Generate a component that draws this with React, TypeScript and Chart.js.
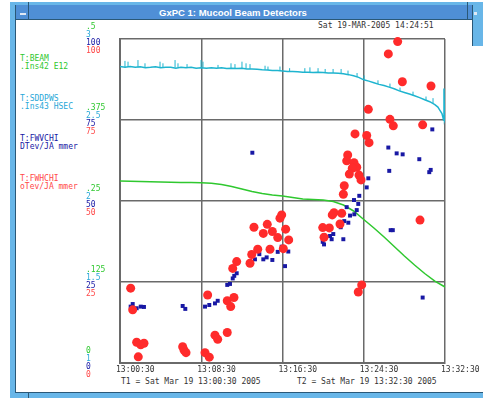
import React, { useEffect, useRef } from "react";
import { Chart, registerables } from "chart.js";
Chart.register(...registerables);

// ---------- data (time in minutes after T1 = 13:00:30) ----------
const xTickLabels = ["13:00:30", "13:08:30", "13:16:30", "13:24:30", "13:32:30"];
const greenTickLabels = ["0", ".125", ".25", ".375", ".5"];
const cyanTickLabels = ["1", "1.5", "2", "2.5", "3"];
const blueTickLabels = ["0", "25", "50", "75", "100"];
const redTickLabels = ["0", "25", "50", "75", "100"];

// T:SDDPWS (cyan, 1..3)
const cyanTime = [0, 0.5, 1, 1.5, 2, 2.5, 3, 3.5, 4, 4.5, 5, 5.5, 6, 6.5, 7, 7.5, 8, 8.5, 9, 9.5, 10, 10.5, 11, 11.5, 12, 12.5, 13, 13.5, 14, 14.5, 15, 15.5, 16, 16.5, 17, 17.5, 18, 18.5, 19, 19.5, 20, 20.5, 21, 21.5, 22, 22.5, 23, 23.5, 24, 24.5, 25, 25.5, 26, 26.5, 27, 27.5, 28, 28.5, 29, 29.5, 30, 30.5, 31, 31.3, 31.5, 31.7, 31.8, 31.85, 31.9, 31.95, 32];
const cyanValue = [2.83, 2.825, 2.83, 2.825, 2.828, 2.823, 2.825, 2.828, 2.823, 2.825, 2.825, 2.82, 2.825, 2.823, 2.825, 2.82, 2.823, 2.82, 2.823, 2.82, 2.823, 2.818, 2.82, 2.818, 2.82, 2.815, 2.815, 2.813, 2.81, 2.808, 2.805, 2.805, 2.803, 2.8, 2.8, 2.798, 2.795, 2.795, 2.793, 2.795, 2.793, 2.79, 2.79, 2.788, 2.785, 2.78, 2.773, 2.763, 2.748, 2.74, 2.73, 2.72, 2.713, 2.703, 2.693, 2.68, 2.67, 2.66, 2.65, 2.638, 2.625, 2.613, 2.595, 2.58, 2.56, 2.54, 2.515, 2.5, 2.695, 2.5, 2.51];
const spikeTime = [0.49, 0.79, 1.77, 2.46, 3.94, 4.23, 5.42, 5.71, 6.6, 7.98, 8.17, 9.65, 10.93, 11.32, 12.01, 12.41, 12.8, 14.28, 14.57, 15.75, 16.7, 18.2, 18.7, 19.5, 20.2, 20.98, 21.77, 22.45, 23.34, 24.03, 25.4, 26.58, 27.57, 28.85, 30.13, 30.82];
const spikeLow = [2.825, 2.828, 2.825, 2.825, 2.823, 2.825, 2.823, 2.825, 2.823, 2.823, 2.823, 2.82, 2.82, 2.82, 2.82, 2.818, 2.815, 2.81, 2.808, 2.805, 2.8, 2.795, 2.795, 2.793, 2.793, 2.79, 2.788, 2.78, 2.765, 2.748, 2.723, 2.7, 2.678, 2.65, 2.623, 2.603];
const spikeHigh = [2.865, 2.86, 2.87, 2.85, 2.86, 2.85, 2.87, 2.85, 2.845, 2.87, 2.86, 2.84, 2.85, 2.845, 2.86, 2.85, 2.845, 2.835, 2.83, 2.83, 2.82, 2.82, 2.825, 2.82, 2.815, 2.815, 2.815, 2.805, 2.79, 2.775, 2.745, 2.725, 2.7, 2.675, 2.645, 2.635];

// T:BEAM (green, 0..0.5)
const greenTime = [0, 1, 2, 3, 4, 5, 6, 7, 8, 9, 10, 11, 12, 13, 14, 15, 16, 17, 18, 19, 20, 21, 22, 23, 24, 25, 26, 27, 28, 29, 30, 31, 32];
const greenValue = [0.281, 0.2805, 0.28, 0.2796, 0.2793, 0.279, 0.2787, 0.2784, 0.2782, 0.2775, 0.2755, 0.2724, 0.2685, 0.2647, 0.2616, 0.2593, 0.2577, 0.2554, 0.2531, 0.2523, 0.2515, 0.2492, 0.2438, 0.2346, 0.2215, 0.2083, 0.1944, 0.1798, 0.1651, 0.1512, 0.1381, 0.1265, 0.1173];

// T:FWVCHI (blue, 0..100)
const blueTime = [1.05, 1.25, 1.64, 2.04, 2.36, 6.17, 6.43, 8.37, 8.79, 9.35, 9.62, 10.56, 10.83, 11.1, 11.25, 11.49, 13.03, 13.29, 13.72, 14.11, 14.44, 15.0, 15.53, 15.92, 16.57, 16.25, 24.45, 24.29, 23.56, 23.04, 23.46, 22.32, 23.31, 22.65, 23.07, 22.08, 22.48, 21.73, 21.0, 20.68, 20.84, 19.96, 20.09, 21.99, 26.65, 26.86, 29.8, 30.75, 26.42, 27.24, 27.83, 29.47, 26.51, 30.59, 30.45];
const blueValue = [17.4, 18.2, 16.9, 17.4, 17.3, 17.6, 16.7, 17.4, 17.9, 18.4, 19.2, 24.1, 24.4, 26.1, 26.9, 27.7, 64.9, 32.0, 33.6, 32.0, 32.6, 31.8, 34.3, 35.9, 34.4, 29.9, 57.0, 54.2, 51.6, 50.3, 49.1, 48.1, 47.2, 45.5, 45.9, 43.8, 43.3, 41.9, 39.8, 39.2, 38.2, 37.4, 36.6, 38.2, 41.0, 41.0, 20.2, 72.1, 66.5, 64.7, 64.4, 62.9, 59.3, 59.6, 58.9];

// T:FWHCHI (red, 0..100)
const redTime = [1.05, 1.25, 1.64, 2.04, 2.36, 1.8, 6.17, 6.3, 6.5, 8.37, 8.79, 8.63, 9.35, 9.62, 10.56, 10.56, 11.22, 10.9, 11.1, 11.49, 12.8, 12.97, 13.56, 13.19, 14.11, 14.5, 15.0, 14.77, 15.53, 15.75, 15.92, 16.31, 16.61, 16.08, 22.42, 22.32, 23.04, 23.31, 22.87, 22.58, 23.53, 23.73, 22.08, 21.99, 21.07, 20.9, 21.83, 21.66, 19.96, 20.61, 20.09, 29.54, 23.8, 23.46, 27.34, 26.42, 27.8, 30.62, 24.45, 26.58, 26.91, 29.8, 23.14, 24.29, 24.52];
const redValue = [23.1, 16.4, 6.4, 5.6, 6.1, 1.9, 5.0, 4.0, 3.2, 3.2, 1.8, 21.0, 8.6, 7.3, 9.4, 19.2, 20.2, 17.4, 29.2, 31.3, 30.8, 33.5, 35.1, 41.9, 40.0, 42.8, 40.6, 35.1, 38.7, 44.7, 45.7, 41.3, 38.0, 35.3, 64.2, 62.4, 61.8, 60.4, 60.1, 58.3, 58.0, 56.5, 54.7, 52.1, 46.4, 45.7, 46.2, 42.9, 41.8, 41.7, 38.8, 44.1, 24.1, 21.9, 99.2, 95.4, 86.8, 85.5, 78.3, 75.2, 73.2, 73.5, 70.7, 70.2, 68.0];

// ---------- styles ----------
const GREEN = "#2fc82f";
const CYAN = "#1eb4cf";
const CYAN_TXT = "#2aa8d8";
const BLUE = "#1818a4";
const RED = "#ff2b2b";
const RED_TXT = "#ff4848";
const GRID = "#6a6a6a";
const MONO = "'DejaVu Sans Mono', monospace";
const FRAME = "#68b6e8";
const TITLE = "#4f8fd6";
const DARK = "#2a5878";

const zip = (xs: number[], ys: number[]) => xs.map((x, i) => ({ x, y: ys[i] }));

function App() {
  const ref = useRef<HTMLCanvasElement | null>(null);

  useEffect(() => {
    if (!ref.current) return;
    const spikeData: any[] = [];
    spikeTime.forEach((t, i) => {
      spikeData.push({ x: t, y: spikeLow[i] });
      spikeData.push({ x: t, y: spikeHigh[i] });
      spikeData.push({ x: t, y: null });
    });

    const zeroW = (s: any) => {
      s.width = 0;
      s.paddingTop = 0;
      s.paddingBottom = 0;
      s.paddingLeft = 0;
      s.paddingRight = 0;
    };
    const yAxis = (min: number, max: number, step: number, labels: string[], color: string, offset: number, grid: boolean) => ({
      type: "linear",
      position: "left",
      min,
      max,
      afterFit: zeroW,
      ticks: {
        stepSize: step,
        autoSkip: false,
        mirror: true,
        padding: -34,
        labelOffset: offset,
        color,
        font: { family: MONO, size: 8 },
        callback: (_v: any, i: number) => labels[i],
      },
      grid: grid ? { color: GRID, lineWidth: 1.5, drawTicks: false } : { display: false, drawTicks: false },
      border: grid ? { display: true, color: GRID, width: 2 } : { display: false },
    });

    const chart = new Chart(ref.current, {
      type: "scatter",
      data: {
        datasets: [
          {
            label: "T:FWHCHI",
            data: zip(redTime, redValue),
            yAxisID: "yR",
            pointStyle: "circle",
            pointRadius: 4.5,
            pointBackgroundColor: RED,
            pointBorderWidth: 0,
            clip: false,
          },
          {
            label: "T:FWVCHI",
            data: zip(blueTime, blueValue),
            yAxisID: "yB",
            pointStyle: "rect",
            pointRadius: 2.8,
            pointBackgroundColor: BLUE,
            pointBorderWidth: 0,
            clip: false,
          },
          {
            label: "T:BEAM",
            data: zip(greenTime, greenValue),
            yAxisID: "yG",
            showLine: true,
            borderColor: GREEN,
            borderWidth: 1.5,
            pointRadius: 0,
          },
          {
            label: "T:SDDPWS",
            data: zip(cyanTime, cyanValue),
            yAxisID: "yC",
            showLine: true,
            borderColor: CYAN,
            borderWidth: 1.5,
            pointRadius: 0,
          },
          {
            label: "spikes",
            data: spikeData,
            yAxisID: "yC",
            showLine: true,
            spanGaps: false,
            borderColor: CYAN,
            borderWidth: 1,
            pointRadius: 0,
          },
        ] as any,
      },
      options: {
        responsive: false,
        animation: false,
        events: [],
        layout: { padding: { left: 120, right: 38, top: 39, bottom: 0 } },
        plugins: { legend: { display: false }, tooltip: { enabled: false }, title: { display: false } },
        scales: {
          x: {
            type: "linear",
            min: 0,
            max: 32,
            afterFit: (s: any) => {
              s.height = 35;
              s.paddingLeft = 0;
              s.paddingRight = 0;
            },
            ticks: {
              stepSize: 8,
              autoSkip: false,
              maxRotation: 0,
              minRotation: 0,
              align: "start",
              labelOffset: -4,
              padding: 2,
              color: "#333",
              font: { family: MONO, size: 8 },
              callback: (_v: any, i: number) => xTickLabels[i],
            },
            grid: { color: GRID, lineWidth: 1.5, drawTicks: false },
            border: { display: true, color: GRID, width: 2 },
          },
          yB: yAxis(0, 100, 25, blueTickLabels, BLUE, 4, true),
          yG: yAxis(0, 0.5, 0.125, greenTickLabels, GREEN, -12, false),
          yC: yAxis(1, 3, 0.5, cyanTickLabels, CYAN_TXT, -4, false),
          yR: yAxis(0, 100, 25, redTickLabels, RED_TXT, 12, false),
        } as any,
      },
    });
    return () => chart.destroy();
  }, []);

  const txt = (s: string, left: number, top: number, color: string) => (
    <div
      style={{
        position: "absolute",
        left,
        top,
        font: `8px ${MONO}`,
        lineHeight: "8px",
        whiteSpace: "pre",
        color,
      }}
    >
      {s}
    </div>
  );

  const box = (left: number, top: number, width: number, height: number, bg: string) => (
    <div style={{ position: "absolute", left, top, width, height, background: bg }} />
  );

  return (
    <div style={{ position: "fixed", left: 0, top: 0, width: 483, height: 398, background: "#fff", overflow: "hidden" }}>
      {/* window frame */}
      {box(10, 2, 473, 3, FRAME)}
      {box(10, 2, 5, 396, FRAME)}
      {box(15, 5, 1, 393, DARK)}
      {box(16, 5, 457, 14, TITLE)}
      {box(15, 19, 458, 1, DARK)}
      {box(28, 2, 1, 18, DARK)}
      {box(20, 13, 6, 2, "#dfe9f5")}
      {box(467, 2, 1, 18, DARK)}
      {box(473, 2, 10, 44, FRAME)}
      {box(472, 5, 1, 41, DARK)}
      {box(474, 12, 3, 3, "#dfe9f5")}
      {box(15, 392, 468, 1, DARK)}
      {box(10, 393, 473, 5, FRAME)}
      {box(28, 393, 1, 5, DARK)}
      <div
        style={{
          position: "absolute",
          left: 0,
          width: 466,
          top: 6,
          textAlign: "center",
          color: "#fff",
          font: "bold 9.5px 'Liberation Sans', Arial, sans-serif",
          lineHeight: "13px",
          whiteSpace: "pre",
        }}
      >
        GxPC 1: Mucool Beam Detectors
      </div>
      {txt("Sat 19-MAR-2005 14:24:51", 318, 22, "#333")}
      {txt("T:BEAM", 20, 55, GREEN)}
      {txt(".Ins42 E12", 20, 63, GREEN)}
      {txt("T:SDDPWS", 20, 95, CYAN_TXT)}
      {txt(".Ins43 HSEC", 20, 103, CYAN_TXT)}
      {txt("T:FWVCHI", 20, 135, BLUE)}
      {txt("DTev/JA mmer", 20, 143, BLUE)}
      {txt("T:FWHCHI", 20, 175, RED_TXT)}
      {txt("oTev/JA mmer", 20, 183, RED_TXT)}
      {txt("T1 = Sat Mar 19 13:00:30 2005", 121, 378, "#333")}
      {txt("T2 = Sat Mar 19 13:32:30 2005", 297, 378, "#333")}
      <canvas ref={ref} width={483} height={398} style={{ position: "absolute", left: 0, top: 0, width: 483, height: 398 }} />
    </div>
  );
}

export default App;
